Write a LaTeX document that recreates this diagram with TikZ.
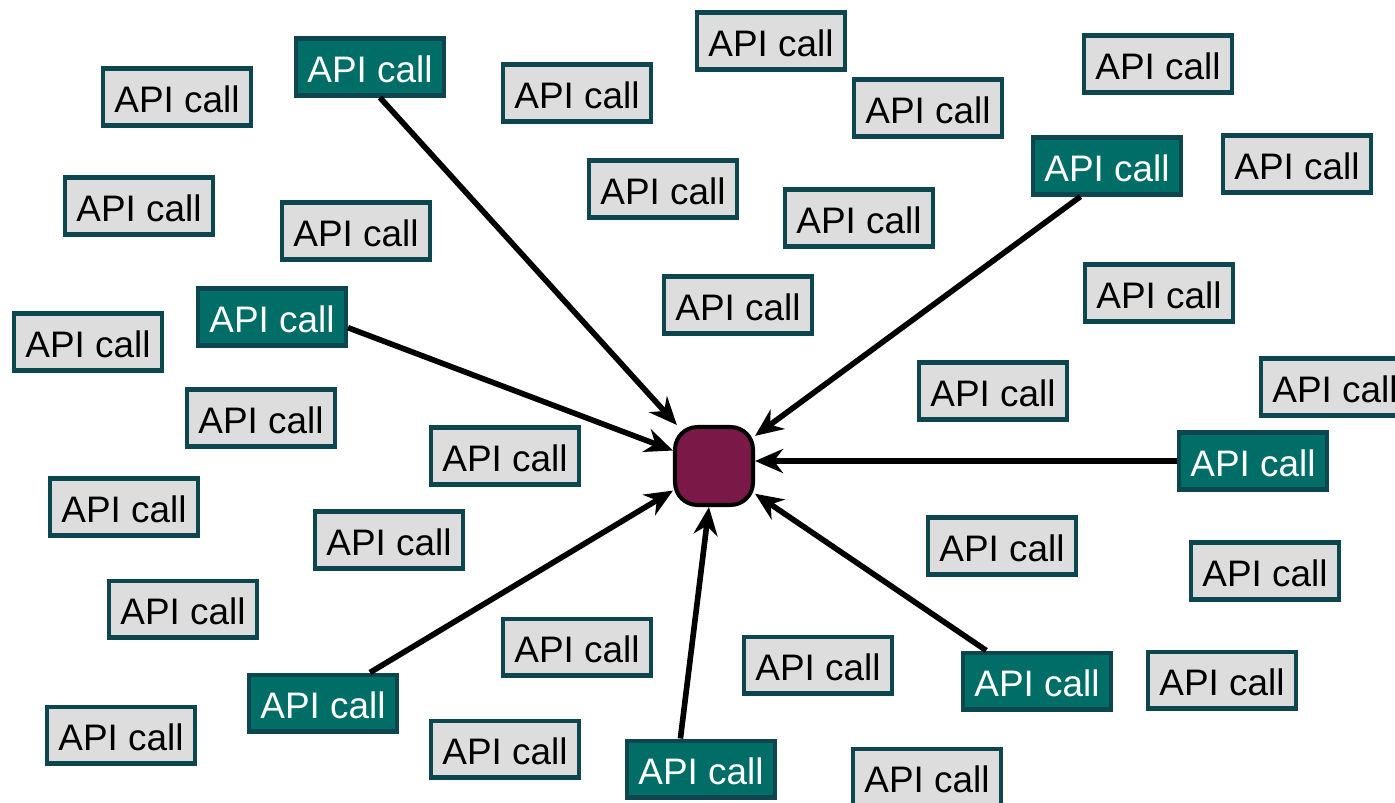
\documentclass[tikz,border=0pt]{standalone}
\usepackage{fontspec}
\setmainfont{Liberation Sans}
\usetikzlibrary{arrows.meta}
\definecolor{myteal}{RGB}{0,109,103}
\definecolor{mygray}{RGB}{221,221,221}
\definecolor{myedge}{RGB}{13,70,78}
\definecolor{mymaroon}{RGB}{122,24,72}

\tikzset{
  callbox/.style={draw=myedge, line width=2.3pt, fill=mygray, minimum width=2.96cm,
    minimum height=1.14cm, inner sep=0pt, text height=0.64cm,
    font=\fontsize{21}{25}\selectfont},
  hotcall/.style={callbox, fill=myteal, text=white},
  hubbox/.style={draw=black, line width=2.3pt, fill=mymaroon, minimum size=1.56cm,
    rounded corners=0.45cm, inner sep=0pt},
  feed/.style={-{Stealth[length=0.56cm,width=0.48cm]}, line width=3.2pt}
}

\begin{document}
\begin{tikzpicture}[x=0.02cm, y=-0.02cm]
  \useasboundingbox (0,0) rectangle (1395,802);
  \clip (0,0) rectangle (1395,802);

  % idle calls
  \foreach \px/\py [count=\i] in {177/97, 577/93, 771/41, 1158/64, 928/108, 1297/164,
      139/206, 356/231, 663/189, 859/218, 1159/293, 738/305, 88/342, 993/391,
      1335/387, 261/418, 505/456, 124/507, 389/540, 1002/546, 1265/571, 183/609,
      577/647, 818/665, 1222/680, 121/735, 505/749, 927/777}
    \node[callbox] (call\i) at (\px,\py) {API call};

  % target
  \node[hubbox] (hub) at (714,466) {};

  % active calls, with the side each arrow leaves from
  \foreach \px/\py/\ang [count=\i] in {370/67/-72, 1107/166/229, 272/317/-8,
      323/703/33, 701/769/124, 1037/681/149}
  {
    \node[hotcall] (hot\i) at (\px,\py) {API call};
    \draw[feed] (hot\i.\ang) -- (hub);
  }
  \node[hotcall] (hot7) at (1253,461) {API call};
  \draw[feed] (hot7.west) -- (hot7.west -| hub.east);
\end{tikzpicture}
\end{document}
